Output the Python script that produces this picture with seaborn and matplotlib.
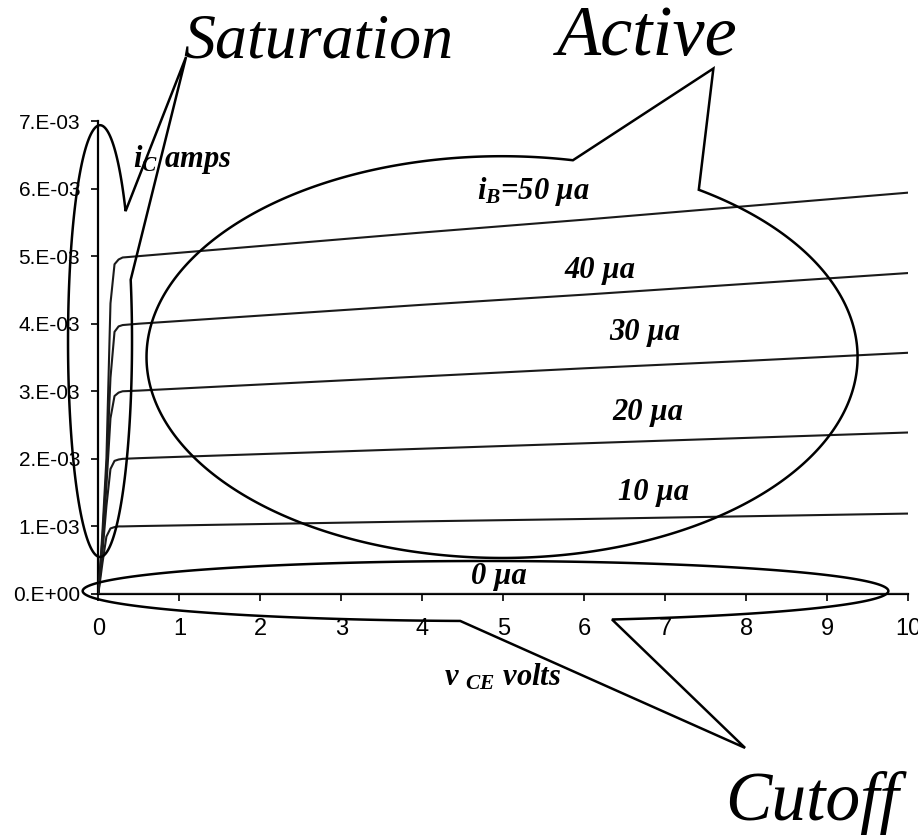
import numpy as np
import pandas as pd
import seaborn as sns
import matplotlib
matplotlib.use("Agg")
from matplotlib import pyplot as plt
from matplotlib.patches import Polygon
from matplotlib.ticker import FuncFormatter

# napatie kolektor-emitor (V)
vce = [0, 0.05, 0.1, 0.15, 0.2, 0.25, 0.3, 0.5, 1, 2, 4, 6, 8, 10]
# prud kolektora v mA pre jednotlive prudy bazy
ib_labels = ['0', '10', '20', '30', '40', '50']
ic_0 = [0, 0, 0, 0, 0, 0, 0, 0, 0, 0, 0, 0, 0, 0]
ic_10 = [0, 0.45, 0.85, 0.97, 0.99, 1.0, 1.0, 1.005, 1.015, 1.035, 1.075, 1.11, 1.15, 1.19]
ic_20 = [0, 0.6, 1.3, 1.85, 1.97, 1.99, 2.0, 2.01, 2.03, 2.07, 2.15, 2.23, 2.31, 2.39]
ic_30 = [0, 0.7, 1.6, 2.6, 2.93, 2.98, 3.0, 3.01, 3.04, 3.10, 3.22, 3.34, 3.45, 3.57]
ic_40 = [0, 0.8, 1.8, 3.2, 3.88, 3.96, 3.98, 4.0, 4.04, 4.12, 4.28, 4.43, 4.59, 4.75]
ic_50 = [0, 0.9, 2.0, 4.3, 4.88, 4.95, 4.98, 5.0, 5.05, 5.15, 5.35, 5.54, 5.74, 5.94]
x_ticks = list(range(11))
y_ticks_ma = [0, 1, 2, 3, 4, 5, 6, 7]

# popisky kriviek: text, x, y (mA)
curve_labels = [
    (r"$i_B$=50 µa", 4.68, 5.84),
    ("40 µa", 5.76, 4.67),
    ("30 µa", 6.31, 3.76),
    ("20 µa", 6.35, 2.57),
    ("10 µa", 6.42, 1.39),
    ("0 µa", 4.60, 0.15),
]

# bubliny: stred x, stred y (mA), polosi, uhly paty, spicka
callouts = [
    (0.021, 3.743, 0.395, 3.195, 16.5, 37.0, (1.083, 7.948)),
    (4.984, 3.506, 4.389, 2.973, 56.4, 78.5, (7.593, 7.777)),
    (4.780, 0.044, 4.973, 0.444, 266.4, 288.3, (7.984, -2.278)),
]

df = pd.DataFrame({
    'vce': vce * 6,
    'ic': [v * 1e-3 for v in ic_0 + ic_10 + ic_20 + ic_30 + ic_40 + ic_50],
    'ib': [lab for lab in ib_labels for _ in vce],
})

sns.set_style("ticks")
plt.rcParams['font.family'] = ['Liberation Sans', 'DejaVu Sans']
plt.rcParams['text.color'] = 'black'
plt.rcParams['mathtext.fontset'] = 'custom'
plt.rcParams['mathtext.it'] = 'Liberation Serif:italic:bold'
plt.rcParams['mathtext.rm'] = 'Liberation Serif:bold'
plt.rcParams['mathtext.bf'] = 'Liberation Serif:italic:bold'

fig = plt.figure(figsize=(9.18, 8.38), dpi=100)
ax = fig.add_axes([0.1071, 0.2912, 0.8824, 0.5644])

sns.lineplot(data=df, x='vce', y='ic', hue='ib', palette={k: '#1a1a1a' for k in ib_labels},
             legend=False, lw=1.5, ax=ax, zorder=3)

ax.set_xlim(0, 10)
ax.set_ylim(0, 7e-3)
ax.set_xticks(x_ticks)
ax.set_yticks([v * 1e-3 for v in y_ticks_ma])
ax.yaxis.set_major_formatter(FuncFormatter(lambda v, _: f"{v:.0E}".replace("E", ".E")))
ax.set_xlabel('')
ax.set_ylabel('')
for s in ['top', 'right']:
    ax.spines[s].set_visible(False)
for s in ['left', 'bottom']:
    ax.spines[s].set_linewidth(1.6)
    ax.spines[s].set_color('black')
ax.tick_params(axis='x', length=5, width=1.2, pad=12, labelsize=17, color='black', labelcolor='black')
ax.tick_params(axis='y', length=5, width=1.2, pad=8, labelsize=15, color='black', labelcolor='black')

# bubliny
for cx, cy, a, b, t1, t2, tip in callouts:
    t = np.radians(np.linspace(t2, t1 + 360, 500))
    xs = np.append(cx + a * np.cos(t), tip[0])
    ys = np.append(cy + b * np.sin(t), tip[1]) * 1e-3
    ax.add_patch(Polygon(np.column_stack([xs, ys]), closed=True, fill=False,
                         lw=1.8, ec='black', clip_on=False, zorder=5))

serif_bi = dict(family='Liberation Serif', style='italic', weight='bold', color='black',
                fontsize=22, ha='left', va='baseline', clip_on=False, zorder=6)
for txt, x, y in curve_labels:
    ax.text(x, y * 1e-3, txt, **serif_bi)
ax.text(0.43, 6.32e-3, r"$i_C$ amps", **serif_bi)
ax.text(4.27, -1.35e-3, r"$v\ _{CE}$ volts", **serif_bi)

big = dict(family='Liberation Serif', style='italic', ha='left', va='baseline',
           color='black', clip_on=False, zorder=6)
ax.text(1.05, 7.944e-3, "Saturation", fontsize=46, **big)
ax.text(5.66, 7.98e-3, "Active", fontsize=52, **big)
ax.text(7.74, -3.34e-3, "Cutoff", fontsize=50, **big)

fig.savefig("out.png", dpi=100)
